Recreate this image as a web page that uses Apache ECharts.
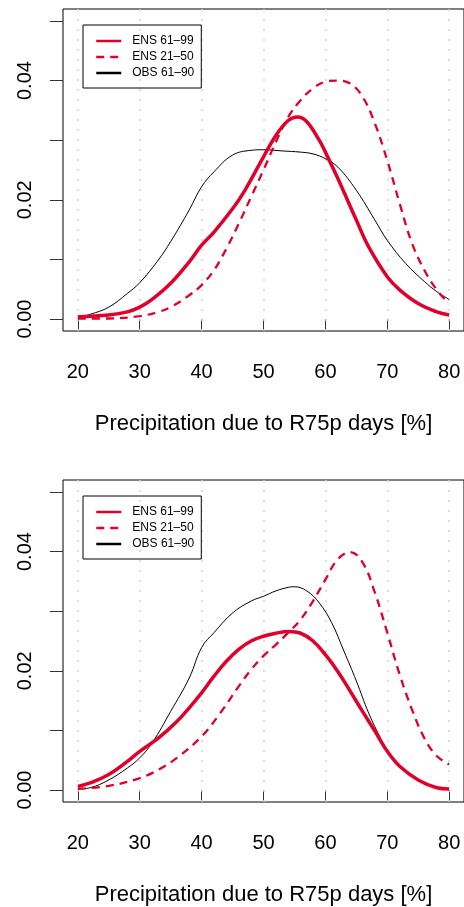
<!DOCTYPE html>
<html>
<head>
<meta charset="utf-8">
<script src="https://cdn.jsdelivr.net/npm/echarts@6/dist/echarts.min.js"></script>
<style>
  html, body { margin: 0; padding: 0; background: #fff; }
  #main { width: 464px; height: 907px; }
</style>
</head>
<body>
<div id="main"></div>
<script>
// x ticks and y ticks
var xTicks = [20, 30, 40, 50, 60, 70, 80];
var yTicks = [0, 0.01, 0.02, 0.03, 0.04, 0.05];
var yLabels = [0, 0.02, 0.04];
var seriesNames = ['ENS 61\u201399', 'ENS 21\u201350', 'OBS 61\u201390'];

// panel 1 (top)
var top_ens6199_x = [20, 25, 28, 30, 32, 35, 38, 40, 42, 45, 47, 50, 52, 54, 55.5, 57, 59, 60, 62, 65, 67, 70, 72, 75, 78, 80];
var top_ens6199_y = [0.0004, 0.0007, 0.0012, 0.002, 0.0033, 0.006, 0.0096, 0.0124, 0.0146, 0.0185, 0.0216, 0.0272, 0.0308, 0.0333, 0.0339, 0.0331, 0.030, 0.028, 0.0236, 0.0166, 0.0121, 0.0071, 0.0049, 0.0026, 0.0012, 0.0007];

var top_ens2150_x = [20, 25, 30, 33, 35, 38, 40, 42, 44, 46, 48, 50, 52, 54, 56, 58, 60, 62, 64, 66, 68, 70, 72, 74, 76, 78, 80];
var top_ens2150_y = [0.0001, 0.0001, 0.0005, 0.0012, 0.002, 0.004, 0.0057, 0.0082, 0.0118, 0.016, 0.0205, 0.025, 0.0297, 0.0339, 0.0367, 0.0387, 0.0398, 0.040, 0.0395, 0.0373, 0.0328, 0.0266, 0.0194, 0.0127, 0.0082, 0.0049, 0.0026];

var top_obs_x = [20, 22, 25, 28, 30, 33, 35, 38, 40, 42, 45, 48, 50, 53, 56, 58, 60, 62, 65, 68, 70, 73, 76, 78, 80];
var top_obs_y = [0.0003, 0.0008, 0.002, 0.0043, 0.0061, 0.0099, 0.013, 0.0183, 0.0222, 0.0247, 0.0275, 0.0283, 0.0284, 0.0282, 0.028, 0.0277, 0.0269, 0.0255, 0.0216, 0.0166, 0.0132, 0.0093, 0.0063, 0.0046, 0.0033];

// panel 2 (bottom)
var bot_ens6199_x = [20, 22, 25, 28, 30, 33, 36, 38, 40, 42, 44, 46, 48, 50, 52, 54, 56, 58, 60, 62, 64, 66, 68, 70, 72, 75, 78, 80];
var bot_ens6199_y = [0.0006, 0.0012, 0.0026, 0.0048, 0.0065, 0.0087, 0.0115, 0.0138, 0.0163, 0.0191, 0.0216, 0.0236, 0.025, 0.0258, 0.0263, 0.0266, 0.0263, 0.025, 0.0227, 0.0199, 0.0166, 0.0132, 0.0099, 0.0065, 0.004, 0.0017, 0.0004, 0.0002];

var bot_ens2150_x = [20, 25, 30, 33, 36, 40, 43, 46, 48, 50, 52, 54, 56, 58, 60, 62, 64, 66, 68, 70, 72, 74, 76, 78, 80];
var bot_ens2150_y = [0.0002, 0.0007, 0.002, 0.0034, 0.0054, 0.009, 0.0129, 0.0174, 0.0202, 0.0225, 0.0244, 0.0264, 0.0286, 0.0317, 0.0353, 0.0387, 0.0399, 0.0382, 0.0331, 0.0264, 0.0194, 0.0135, 0.0087, 0.0057, 0.0043];

var bot_obs_x = [20, 22, 25, 28, 30, 32, 35, 38, 40, 42, 45, 48, 50, 52, 54, 55, 57, 59, 61, 63, 65, 67, 69, 70];
var bot_obs_y = [0.0002, 0.0004, 0.0017, 0.0037, 0.0054, 0.0079, 0.0132, 0.0188, 0.0239, 0.0264, 0.0297, 0.0317, 0.0325, 0.0334, 0.034, 0.0341, 0.0334, 0.0314, 0.0281, 0.0233, 0.0183, 0.0129, 0.0085, 0.0065];

function pairs(xs, ys) {
    return xs.map(function (x, i) { return [x, ys[i]]; });
}

var RED = '#e0002a';
var FONT = 'Liberation Sans';
var NOFILL = { color: 'rgba(0,0,0,0)', borderColor: 'rgba(0,0,0,0)', borderWidth: 0 };

function xAxisFor(i) {
    return {
        type: 'value', gridIndex: i, min: 17.6, max: 82.4,
        name: 'Precipitation due to R75p days [%]',
        nameLocation: 'middle', nameGap: 82,
        nameTextStyle: { fontFamily: FONT, fontSize: 22, color: '#000' },
        axisLine: { show: false },
        axisTick: { show: true, inside: false, length: 12, customValues: xTicks, lineStyle: { color: '#333' } },
        axisLabel: { customValues: xTicks, margin: 31, fontFamily: FONT, fontSize: 20, color: '#000' },
        splitLine: { show: false }
    };
}

function yAxisFor(i) {
    return {
        type: 'value', gridIndex: i, min: -0.002, max: 0.052,
        axisLine: { show: false },
        axisTick: { show: true, inside: false, length: 13, customValues: yTicks, lineStyle: { color: '#333' } },
        axisLabel: {
            customValues: yLabels, rotate: 90, margin: 28,
            fontFamily: FONT, fontSize: 20, color: '#000',
            formatter: function (v) { return v.toFixed(2); }
        },
        splitLine: { show: false }
    };
}

function legendFor(top) {
    return {
        orient: 'vertical', left: 83, top: top,
        padding: [9, 7, 8, 12],
        itemWidth: 25, itemHeight: 14, itemGap: 2,
        borderColor: '#000', borderWidth: 1,
        textStyle: { fontFamily: FONT, fontSize: 12, color: '#000', padding: [0, 0, 0, 6], lineHeight: 14 },
        itemStyle: NOFILL,
        data: [
            { name: seriesNames[0], lineStyle: { width: 2.5 }, itemStyle: NOFILL },
            { name: seriesNames[1], lineStyle: { width: 2.5 }, itemStyle: NOFILL },
            { name: seriesNames[2], lineStyle: { width: 2.5 }, itemStyle: NOFILL }
        ]
    };
}

function panelSeries(i, a, b, c) {
    return [
        {
            name: seriesNames[2], type: 'line', xAxisIndex: i, yAxisIndex: i,
            data: c, symbol: 'none', smooth: 0.4, z: 2,
            lineStyle: { color: '#000', width: 1 }, itemStyle: { color: '#000' },
            markLine: {
                silent: true, symbol: 'none', z: 1,
                label: { show: false },
                lineStyle: { color: '#d4d4d4', type: [2, 8], width: 1.5 },
                data: xTicks.map(function (v) { return { xAxis: v }; })
            }
        },
        {
            name: seriesNames[1], type: 'line', xAxisIndex: i, yAxisIndex: i,
            data: b, symbol: 'none', smooth: 0.4, z: 3,
            lineStyle: { color: RED, width: 2.3, type: [8, 6] }, itemStyle: { color: RED }
        },
        {
            name: seriesNames[0], type: 'line', xAxisIndex: i, yAxisIndex: i,
            data: a, symbol: 'none', smooth: 0.4, z: 4,
            lineStyle: { color: RED, width: 3.5 }, itemStyle: { color: RED }
        }
    ];
}

var myChart = echarts.init(document.getElementById('main'), null, { renderer: 'canvas' });

var option = {
    backgroundColor: '#fff',
    animation: false,
    grid: [
        { left: 63, top: 9, width: 402, height: 322, show: true, borderColor: '#000', borderWidth: 1, backgroundColor: 'transparent' },
        { left: 63, top: 480, width: 402, height: 322, show: true, borderColor: '#000', borderWidth: 1, backgroundColor: 'transparent' }
    ],
    xAxis: [xAxisFor(0), xAxisFor(1)],
    yAxis: [yAxisFor(0), yAxisFor(1)],
    legend: [legendFor(25), legendFor(496)],
    series: panelSeries(0,
            pairs(top_ens6199_x, top_ens6199_y),
            pairs(top_ens2150_x, top_ens2150_y),
            pairs(top_obs_x, top_obs_y))
        .concat(panelSeries(1,
            pairs(bot_ens6199_x, bot_ens6199_y),
            pairs(bot_ens2150_x, bot_ens2150_y),
            pairs(bot_obs_x, bot_obs_y)))
};

myChart.setOption(option);
window.onresize = myChart.resize;
</script>
</body>
</html>
